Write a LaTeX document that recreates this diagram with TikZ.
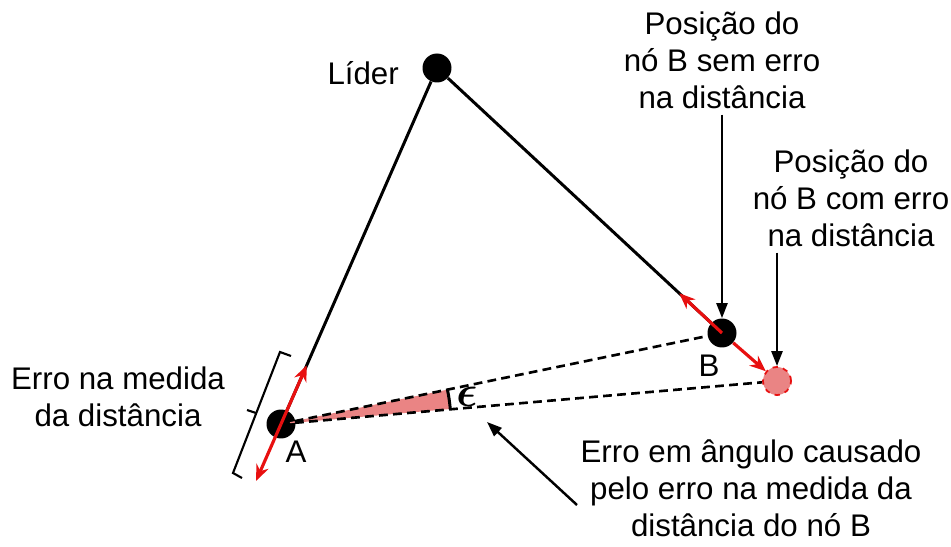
\documentclass[tikz,border=0pt]{standalone}
\usepackage{fontspec}
\setmainfont{Liberation Sans}
\usepackage{amsmath,bm}
\usepackage{xcolor}
\definecolor{errred}{RGB}{232, 16, 16}
\definecolor{errpink}{RGB}{234, 132, 132}
\usepackage{tikz}
\usetikzlibrary{calc,arrows.meta}

\begin{document}
\begin{tikzpicture}[x=0.02cm, y=-0.02cm,
  dot/.style={circle, fill=black, inner sep=0pt, minimum size=0.58cm},
  ghost/.style={circle, fill=errpink, draw=errred, dashed, line width=1pt, inner sep=0pt, minimum size=0.56cm},
  lbl/.style={align=center, font=\fontsize{17.8}{21}\selectfont},
  link/.style={line width=1.7pt},
  ray/.style={line width=1.5pt, dash pattern=on 5pt off 3pt},
  errarrow/.style={line width=1.8pt, errred, -{Stealth[length=0.32cm, width=0.26cm]}},
  ptr/.style={line width=1.4pt, -{Triangle[length=0.3cm, width=0.22cm]}}
]
  \useasboundingbox (0,0) rectangle (951,547);

  % Nodes
  \node[dot]   (lider) at (437,68)  {};
  \node[dot]   (a)     at (281,424) {};
  \node[dot]   (b)     at (722,333) {};
  \node[ghost] (bb)    at (777,381) {};

  % Angle error wedge
  \fill[errpink] (a.center) -- ++(11.66:3.4cm) arc[start angle=11.66, end angle=5.07, radius=3.4cm] -- cycle;
  \draw[line width=1.7pt] ($(a.center)+(11.9:3.4cm)$) arc[start angle=11.9, end angle=4.8, radius=3.4cm];

  % Links to the leader
  \draw[link] (a) -- (lider);
  \draw[link] (lider) -- (b);
  \draw[ray] (a.center) -- (b);
  \draw[ray] (a.center) -- (bb);

  % Distance errors
  \draw[errarrow] (a.center) -- ($(a.center)!0.165!(lider)$);
  \draw[errarrow] (a.center) -- ($(a.center)!-0.16!(lider)$);
  \draw[errarrow] (b.center) -- ($(b.center)!0.15!(lider)$);
  \draw[errarrow] (b) -- (bb);

  % Bracket
  \draw[line width=1.2pt] (291,356) -- (280,352) -- (233,473) -- (242,478);
  \draw[line width=1.2pt] (256,413) -- (247,410);

  % Labels
  \node[lbl, anchor=east] (tlider) at (405,73) {Líder};
  \node[lbl] (ta) at (296,452) {A};
  \node[lbl] (tb) at (709,366) {B};
  \node[lbl, font=\fontsize{26}{28}\selectfont] (teps) at (467,397) {$\bm{\epsilon}$};
  \node[lbl] (tdist) at (118,397) {Erro na medida\\da distância};
  \node[lbl] (tsem) at (722,60) {Posição do\\nó B sem erro\\na distância};
  \node[lbl] (tcom) at (851,198) {Posição do\\nó B com erro\\na distância};
  \node[lbl] (tang) at (751,488) {Erro em ângulo causado\\pelo erro na medida da\\distância do nó B};

  % Pointers
  \coordinate (etail) at (577,505);
  \coordinate (ehead) at (487,422);
  \draw[ptr] (tsem) -- (b);
  \draw[ptr] (bb |- tcom.south) -- (bb);
  \draw[ptr] (etail) -- (ehead);
\end{tikzpicture}
\end{document}
